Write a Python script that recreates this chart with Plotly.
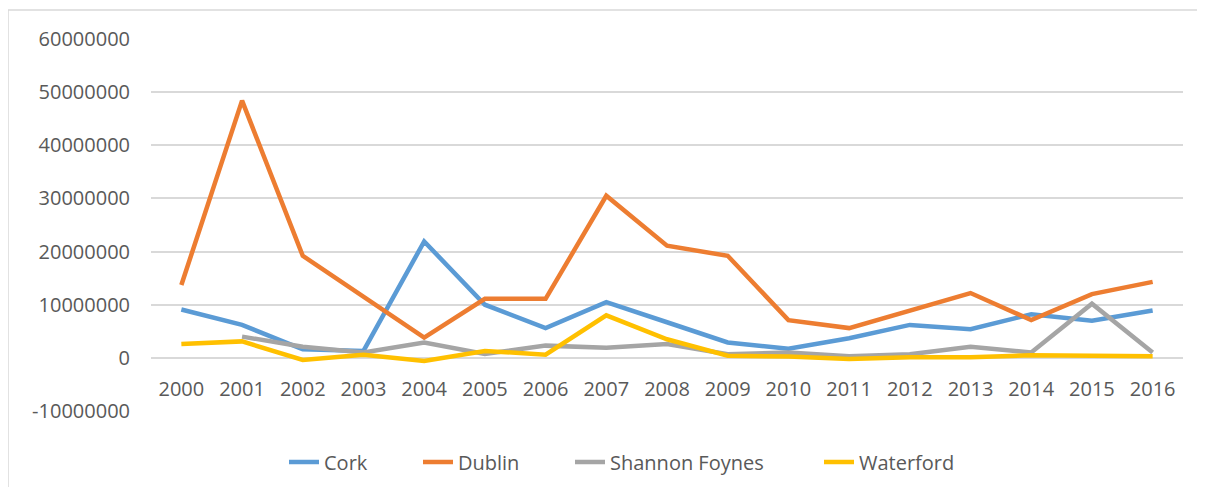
import plotly.graph_objects as go

years = [str(y) for y in range(2000, 2017)]
cork = [9.1e6, 6.2e6, 1.6e6, 1.3e6, 21.9e6, 10.0e6, 5.6e6, 10.5e6, 6.7e6, 2.9e6, 1.7e6, 3.7e6, 6.2e6, 5.4e6, 8.2e6, 7.0e6, 8.9e6]
dublin = [13.7e6, 48.4e6, 19.2e6, 11.4e6, 3.8e6, 11.1e6, 11.1e6, 30.5e6, 21.1e6, 19.2e6, 7.1e6, 5.6e6, 9.0e6, 12.2e6, 7.1e6, 12.0e6, 14.3e6]
shannon = [None, 4.0e6, 2.1e6, 1.0e6, 2.9e6, 0.75e6, 2.3e6, 1.9e6, 2.6e6, 0.7e6, 1.0e6, 0.3e6, 0.7e6, 2.1e6, 1.0e6, 10.2e6, 1.0e6]
waterford = [2.6e6, 3.1e6, -0.4e6, 0.6e6, -0.6e6, 1.3e6, 0.6e6, 8.0e6, 3.5e6, 0.4e6, 0.25e6, -0.2e6, 0.1e6, 0.1e6, 0.5e6, 0.5e6, 0.3e6]
y_ticks = [-10000000, 0, 10000000, 20000000, 30000000, 40000000, 50000000, 60000000]

series = [("Cork", cork, "#5B9BD5"), ("Dublin", dublin, "#ED7D31"),
          ("Shannon Foynes", shannon, "#A5A5A5"), ("Waterford", waterford, "#FFC000")]

# screen x where each legend text starts in the reference
legend_text_x = [324, 458, 610, 859]
PLOT_L, PLOT_W = 151, 1032

fig = go.Figure()
legend_defs = {}
for i, (name, vals, col) in enumerate(series):
    lg = "legend" if i == 0 else f"legend{i + 1}"
    fig.add_trace(go.Scatter(x=years, y=vals, name=name, mode="lines", legend=lg,
                             line=dict(color=col, width=4.5), connectgaps=False))
    legend_defs[lg] = dict(orientation="h", x=(legend_text_x[i] - 40 - PLOT_L) / PLOT_W,
                           xanchor="left", y=-0.137, yanchor="middle",
                           font=dict(size=20, color="#595959"),
                           bgcolor="rgba(0,0,0,0)", borderwidth=0)

font = "Open Sans, Liberation Sans, sans-serif"
fig.update_layout(
    width=1189, height=479, autosize=False,
    margin=dict(l=143, r=14, t=30.5, b=76, autoexpand=False),
    paper_bgcolor="white", plot_bgcolor="white",
    font=dict(family=font, size=20, color="#595959"),
    showlegend=True,
    xaxis=dict(type="category", range=[-0.5, 16.5], showgrid=False, zeroline=False,
               showline=False, anchor="free", position=1/7, ticks="", tickangle=0,
               ticklabelstandoff=17, tickfont=dict(size=20, color="#595959")),
    yaxis=dict(range=[-10000000, 60000000], tickvals=y_ticks,
               ticktext=[str(v) for v in y_ticks], showgrid=True,
               gridcolor="#D9D9D9", gridwidth=1.5, zeroline=False, showline=False,
               ticks="", ticklabelstandoff=20, tickfont=dict(size=20, color="#595959")),
    shapes=[dict(type="line", xref="paper", yref="paper",
                 x0=(8 - PLOT_L) / PLOT_W, x1=(8 - PLOT_L) / PLOT_W,
                 y0=-0.4, y1=1 + (38.5 - 9.5) / 373,
                 line=dict(color="#D9D9D9", width=1.5), layer="below"),
            dict(type="line", xref="paper", yref="paper",
                 x0=(8 - PLOT_L) / PLOT_W, x1=1.6,
                 y0=1 + (38.5 - 9.5) / 373, y1=1 + (38.5 - 9.5) / 373,
                 line=dict(color="#D9D9D9", width=1.5), layer="below")],
    **legend_defs,
)
fig.write_html("out.html")
